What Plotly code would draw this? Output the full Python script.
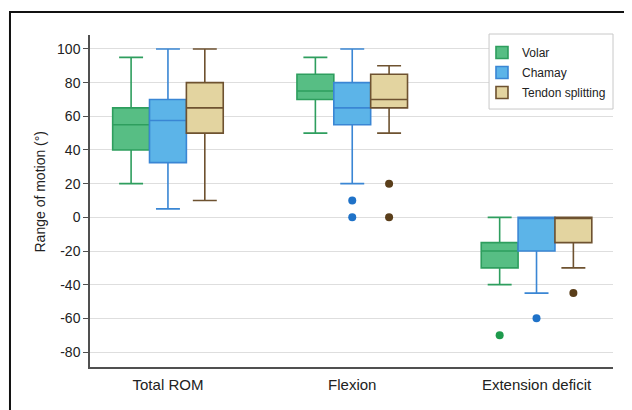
import plotly.graph_objects as go

categories = ["Total ROM", "Flexion", "Extension deficit"]

series_names = ["Volar", "Chamay", "Tendon splitting"]

volar_q1 = [40, 70, -30]
volar_median = [55, 75, -20]
volar_q3 = [65, 85, -15]
volar_low = [20, 50, -40]
volar_high = [95, 95, 0]

chamay_q1 = [32.5, 55, -20]
chamay_median = [57.5, 65, 0]
chamay_q3 = [70, 80, 0]
chamay_low = [5, 20, -45]
chamay_high = [100, 100, 0]

tendon_q1 = [50, 65, -15]
tendon_median = [65, 70, 0]
tendon_q3 = [80, 85, 0]
tendon_low = [10, 50, -30]
tendon_high = [100, 90, 0]

volar_out_x = ["Extension deficit"]
volar_out_y = [-70]
chamay_out_x = ["Flexion", "Flexion", "Extension deficit"]
chamay_out_y = [10, 0, -60]
tendon_out_x = ["Flexion", "Flexion", "Extension deficit"]
tendon_out_y = [20, 0, -45]

y_ticks = [-80, -60, -40, -20, 0, 20, 40, 60, 80, 100]
y_tick_labels = ["-80", "-60", "-40", "-20", "0", "20", "40", "60", "80", "100"]

line_colors = ["#2E9E5E", "#3A86D4", "#6E5230"]
fill_colors = ["#57BE84", "#5CB4E8", "#E3D4A0"]
dot_colors = ["#1E9A4C", "#1F72C8", "#5A3E1A"]

stats = [
    (volar_q1, volar_median, volar_q3, volar_low, volar_high),
    (chamay_q1, chamay_median, chamay_q3, chamay_low, chamay_high),
    (tendon_q1, tendon_median, tendon_q3, tendon_low, tendon_high),
]
outliers = [
    (volar_out_x, volar_out_y),
    (chamay_out_x, chamay_out_y),
    (tendon_out_x, tendon_out_y),
]

FONT = "Liberation Sans, Arial, Helvetica, sans-serif"

fig = go.Figure()
for i, name in enumerate(series_names):
    q1, med, q3, lo, hi = stats[i]
    fig.add_trace(go.Box(
        name=name,
        x=categories,
        q1=q1, median=med, q3=q3, lowerfence=lo, upperfence=hi,
        boxpoints=False,
        fillcolor=fill_colors[i],
        line=dict(color=line_colors[i], width=1.6),
        whiskerwidth=0.65,
        alignmentgroup="boxes",
        legendgroup=f"s{i}",
        hoverinfo="skip",
    ))

for i, name in enumerate(series_names):
    ox, oy = outliers[i]
    fig.add_trace(go.Scatter(
        x=ox, y=oy,
        mode="markers",
        marker=dict(color=dot_colors[i], size=8),
        alignmentgroup="pts",
        offsetgroup=f"p{i}",
        legendgroup=f"s{i}",
        showlegend=False,
        hoverinfo="skip",
    ))

fig.update_layout(
    width=624, height=402,
    margin=dict(l=82, r=19, t=27, b=43),
    paper_bgcolor="white",
    plot_bgcolor="white",
    boxmode="group",
    boxgap=0.4,
    boxgroupgap=0,
    scattermode="group",
    scattergap=0.4,
    font=dict(family=FONT, size=14, color="#222222"),
    legend=dict(
        x=0.7495, y=0.991, xanchor="left", yanchor="top",
        bgcolor="rgba(0,0,0,0)",
        borderwidth=0,
        font=dict(size=12, color="#222222"),
        tracegroupgap=1,
    ),
    showlegend=True,
    shapes=[
        dict(
            type="rect", xref="paper", yref="paper",
            x0=0.763, x1=1.0, y0=0.777, y1=1.003,
            line=dict(color="#C8C8C8", width=1),
            fillcolor="white",
            layer="above",
        ),
        dict(
            type="rect", xref="paper", yref="paper",
            x0=-0.153, x1=1.2, y0=-0.3, y1=1.069,
            line=dict(color="#111111", width=2),
            fillcolor="rgba(0,0,0,0)",
            layer="above",
        ),
    ],
    annotations=[dict(
        text="Range of motion (°)",
        xref="paper", yref="paper",
        x=-0.0956, y=0.5286,
        xanchor="center", yanchor="middle",
        textangle=-90, showarrow=False,
        font=dict(size=14, color="#222222"),
    )],
)

fig.update_xaxes(
    type="category",
    categoryorder="array", categoryarray=categories,
    range=[-0.423, 2.415],
    automargin=False,
    showline=True, linecolor="#505050", linewidth=1.5,
    ticks="", showgrid=False, zeroline=False,
    ticklabelstandoff=3,
    tickfont=dict(size=15, color="#222222"),
)
fig.update_yaxes(
    range=[-88.9, 108.3],
    tickvals=y_ticks,
    ticktext=y_tick_labels,
    automargin=False,
    showline=True, linecolor="#505050", linewidth=1.5,
    ticks="outside", ticklen=5, tickwidth=1, tickcolor="#505050",
    showgrid=True, gridcolor="#DEDEDE", gridwidth=1,
    zeroline=False,
    tickfont=dict(size=14, color="#222222"),
)

fig.write_html("out.html")
